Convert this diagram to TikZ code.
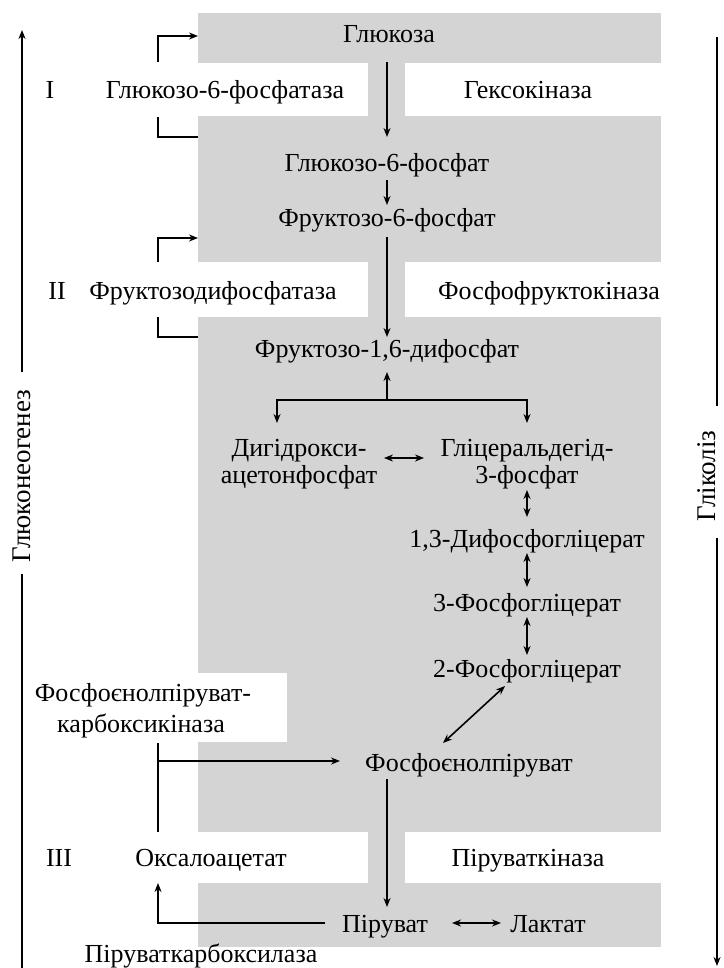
\documentclass[tikz,border=0pt]{standalone}
\usepackage{fontspec}
\setmainfont{Liberation Serif}
\usetikzlibrary{arrows.meta}
\definecolor{bandgray}{HTML}{D4D4D4}
\begin{document}
\begin{tikzpicture}[x=1pt,y=-1pt,
  txt/.style={font=\fontsize{26}{30}\selectfont, inner sep=0pt, anchor=base},
  axlbl/.style={font=\fontsize{27}{30}\selectfont, inner sep=0pt, rotate=90, anchor=center},
  ln/.style={line width=1.6pt},
  arr/.style={ln, -{Stealth[length=9pt,width=7pt]}},
  darr/.style={ln, {Stealth[length=9pt,width=7pt]}-{Stealth[length=9pt,width=7pt]}},
  band/.style={fill=bandgray, draw=none},
  hole/.style={fill=white, draw=none}]
\useasboundingbox (0,0) rectangle (723,968);
% gray band with white gaps
\path[band] (198,13) rectangle (661,947);
\path[hole] (198,63) rectangle (368,116);
\path[hole] (405,63) rectangle (661,116);
\path[hole] (198,262) rectangle (368,317);
\path[hole] (405,262) rectangle (661,317);
\path[hole] (198,673) rectangle (287,742);
\path[hole] (198,832) rectangle (368,883);
\path[hole] (405,832) rectangle (661,883);
% texts
\node[txt] (glc) at (389,43) {Глюкоза};
\node[txt] (rI) at (50,99) {I};
\node[txt] (g6pase) at (225,99) {Глюкозо-6-фосфатаза};
\node[txt] (hk) at (528,99) {Гексокіназа};
\node[txt] (g6p) at (387,172) {Глюкозо-6-фосфат};
\node[txt] (f6p) at (387,227) {Фруктозо-6-фосфат};
\node[txt] (rII) at (57,299) {II};
\node[txt] (fbpase) at (213,299) {Фруктозодифосфатаза};
\node[txt] (pfk) at (549,299) {Фосфофруктокіназа};
\node[txt] (fbp) at (387,357) {Фруктозо-1,6-дифосфат};
\node[txt] (dhapa) at (299,456) {Дигідрокси-};
\node[txt] (dhapb) at (299,483) {ацетонфосфат};
\node[txt] (gapa) at (527,456) {Гліцеральдегід-};
\node[txt] (gapb) at (527,483) {3-фосфат};
\node[txt] (bpg) at (527,547) {1,3-Дифосфогліцерат};
\node[txt] (pgt) at (527,611) {3-Фосфогліцерат};
\node[txt] (pgd) at (527,677) {2-Фосфогліцерат};
\node[txt] (pepcka) at (143,701) {Фосфоєнолпіруват-};
\node[txt] (pepckb) at (141,732) {карбоксикіназа};
\node[txt] (pep) at (469,771) {Фосфоєнолпіруват};
\node[txt] (rIII) at (59,866) {III};
\node[txt] (oaa) at (211,866) {Оксалоацетат};
\node[txt] (pk) at (528,866) {Піруваткіназа};
\node[txt] (pyr) at (385,932) {Піруват};
\node[txt] (lac) at (548,932) {Лактат};
\node[txt] (pc) at (201,962) {Піруваткарбоксилаза};
\node[axlbl] (gng) at (22,476) {Глюконеогенез};
\node[axlbl] (gly) at (707,476) {Гліколіз};
% axes
\coordinate (ltop) at (22,30);
\coordinate (lup) at (22,372);
\coordinate (llow) at (22,574);
\coordinate (lbot) at (22,968);
\coordinate (rtop) at (717,37);
\coordinate (rup) at (717,406);
\coordinate (rlow) at (717,538);
\coordinate (rbot) at (717,966);
\draw[arr] (lup) -- (ltop);
\draw[ln] (llow) -- (lbot);
\draw[ln] (rtop) -- (rup);
\draw[arr] (rlow) -- (rbot);
% brackets
\coordinate (bIa) at (158,62);
\coordinate (bIb) at (198,36);
\coordinate (bIc) at (158,117);
\coordinate (bId) at (198,137);
\coordinate (bIIa) at (158,262);
\coordinate (bIIb) at (198,238);
\coordinate (bIIc) at (158,317);
\coordinate (bIId) at (198,337);
\draw[arr] (bIa) |- (bIb);
\draw[ln] (bIc) |- (bId);
\draw[arr] (bIIa) |- (bIIb);
\draw[ln] (bIIc) |- (bIId);
% main chain
\coordinate (c1) at (387,62);  \coordinate (c2) at (387,137);
\coordinate (c3) at (387,180); \coordinate (c4) at (387,205);
\coordinate (c5) at (387,237); \coordinate (c6) at (387,337);
\draw[arr] (c1) -- (c2);
\draw[arr] (c3) -- (c4);
\draw[arr] (c5) -- (c6);
\coordinate (br) at (387,400);
\coordinate (brup) at (387,372);
\coordinate (brl) at (277,423);
\coordinate (brr) at (527,423);
\draw[arr] (br) -- (brup);
\draw[arr] (br) -| (brl);
\draw[arr] (br) -| (brr);
\coordinate (d1) at (384,458); \coordinate (d2) at (424,458);
\draw[darr] (d1) -- (d2);
\coordinate (e1) at (527,490); \coordinate (e2) at (527,517);
\draw[darr] (e1) -- (e2);
\coordinate (e3) at (527,553); \coordinate (e4) at (527,587);
\draw[darr] (e3) -- (e4);
\coordinate (e5) at (527,617); \coordinate (e6) at (527,655);
\draw[darr] (e5) -- (e6);
\coordinate (e7) at (505,686); \coordinate (e8) at (443,743);
\draw[darr] (e7) -- (e8);
\coordinate (p1) at (387,779); \coordinate (p2) at (387,907);
\draw[arr] (p1) -- (p2);
\coordinate (l1) at (452,923); \coordinate (l2) at (501,923);
\draw[darr] (l1) -- (l2);
% PEPCK and pyruvate carboxylase
\coordinate (pk1) at (158,743);
\coordinate (pk2) at (158,832);
\coordinate (pk3) at (158,761);
\coordinate (pk4) at (340,761);
\draw[ln] (pk1) -- (pk2);
\draw[arr] (pk3) -- (pk4);
\coordinate (pc1) at (325,923);
\coordinate (pc2) at (158,883);
\draw[arr] (pc1) -| (pc2);
\end{tikzpicture}
\end{document}
